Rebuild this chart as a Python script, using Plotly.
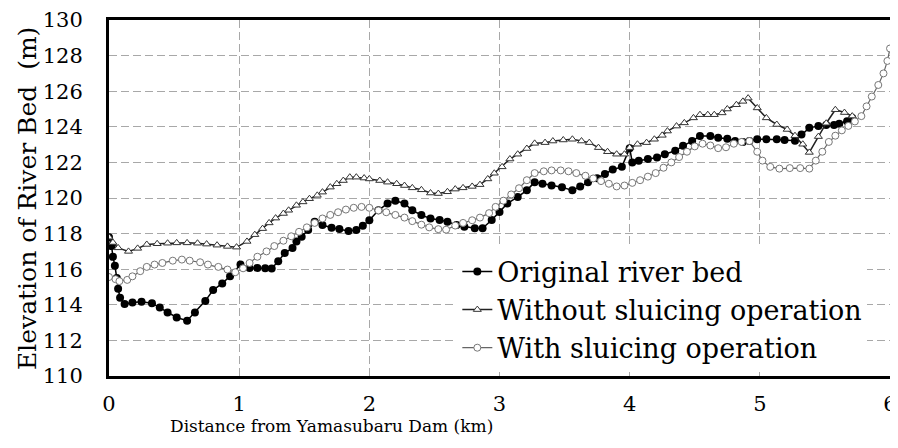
import plotly.graph_objects as go

# ---- data (km, m) ----
orig_x = [0.0, 0.02, 0.03, 0.045, 0.06, 0.07, 0.085, 0.12, 0.18, 0.25, 0.33, 0.39, 0.45, 0.52, 0.60,
          0.66, 0.74, 0.80, 0.87, 0.93, 1.01, 1.08, 1.14, 1.20, 1.25, 1.30, 1.35, 1.41, 1.44, 1.48,
          1.53, 1.58, 1.64, 1.71, 1.77, 1.84, 1.90, 1.95, 2.00, 2.07, 2.14, 2.20, 2.27, 2.33, 2.40,
          2.47, 2.54, 2.60, 2.67, 2.73, 2.81, 2.87, 2.94, 3.00, 3.06, 3.14, 3.21, 3.27, 3.33, 3.40,
          3.48, 3.56, 3.62, 3.68, 3.75, 3.81, 3.87, 3.94, 4.00, 4.02, 4.07, 4.14, 4.21, 4.27, 4.35,
          4.41, 4.48, 4.54, 4.62, 4.68, 4.75, 4.81, 4.87, 4.92, 4.98, 5.05, 5.13, 5.19, 5.27, 5.32,
          5.38, 5.45, 5.51, 5.57, 5.61, 5.67, 5.71]
orig_y = [117.8, 117.3, 116.7, 116.2, 115.5, 114.9, 114.4, 114.04, 114.13, 114.17, 114.09, 113.85,
          113.57, 113.29, 113.11, 113.57, 114.22, 114.83, 115.2, 115.61, 116.26, 116.07, 116.07,
          116.05, 116.04, 116.44, 116.91, 117.19, 117.56, 117.83, 118.2, 118.67, 118.48, 118.33,
          118.26, 118.15, 118.2, 118.44, 118.75, 119.31, 119.69, 119.85, 119.69, 119.31, 119.04,
          118.85, 118.76, 118.67, 118.48, 118.39, 118.3, 118.3, 118.76, 119.22, 119.69, 120.06,
          120.43, 120.89, 120.8, 120.7, 120.61, 120.43, 120.65, 120.89, 121.11, 121.35, 121.6,
          121.75, 122.8, 122.0, 122.09, 122.19, 122.28, 122.46, 122.65, 122.93, 123.2, 123.48,
          123.48, 123.39, 123.33, 123.2, 123.15, 123.2, 123.3, 123.3, 123.3, 123.26, 123.22,
          123.57, 123.94, 124.04, 124.1, 124.1, 124.17, 124.31, 124.5]

without_x = [0.0, 0.03, 0.07, 0.15, 0.22, 0.29, 0.37, 0.45, 0.52, 0.60, 0.68, 0.75, 0.83, 0.91, 0.98,
             1.06, 1.12, 1.18, 1.23, 1.28, 1.34, 1.38, 1.44, 1.49, 1.54, 1.60, 1.64, 1.70, 1.75, 1.80,
             1.85, 1.90, 1.96, 2.00, 2.08, 2.14, 2.21, 2.27, 2.33, 2.40, 2.47, 2.53, 2.60, 2.66, 2.72,
             2.79, 2.85, 2.91, 2.96, 3.02, 3.08, 3.14, 3.21, 3.27, 3.35, 3.41, 3.49, 3.56, 3.63, 3.69,
             3.76, 3.83, 3.90, 3.96, 4.00, 4.06, 4.13, 4.19, 4.25, 4.29, 4.36, 4.42, 4.49, 4.54, 4.60,
             4.65, 4.71, 4.75, 4.82, 4.87, 4.91, 4.98, 5.05, 5.13, 5.21, 5.27, 5.33, 5.38, 5.45, 5.51,
             5.58, 5.65, 5.71]
without_y = [117.8, 117.5, 117.2, 117.0, 117.17, 117.39, 117.43, 117.46, 117.48, 117.48, 117.46,
             117.41, 117.35, 117.28, 117.24, 117.56, 117.94, 118.28, 118.6, 118.87, 119.13, 119.31,
             119.59, 119.78, 119.96, 120.15, 120.33, 120.61, 120.8, 120.98, 121.17, 121.17, 121.12,
             121.07, 120.98, 120.89, 120.8, 120.7, 120.57, 120.46, 120.28, 120.25, 120.35, 120.5,
             120.57, 120.65, 120.75, 121.07, 121.39, 121.75, 122.19, 122.46, 122.78, 123.07, 123.11,
             123.2, 123.26, 123.3, 123.2, 123.11, 122.83, 122.6, 122.46, 122.46, 122.83, 123.02,
             123.11, 123.3, 123.52, 123.76, 124.04, 124.22, 124.5, 124.68, 124.68, 124.68, 124.78,
             125.0, 125.24, 125.43, 125.61, 125.06, 124.5, 124.13, 123.85, 123.5, 123.02, 122.56,
             123.45, 124.2, 124.96, 124.8, 124.6]

with_x = [0.0, 0.05, 0.08, 0.14, 0.18, 0.24, 0.29, 0.35, 0.41, 0.49, 0.56, 0.62, 0.70, 0.76, 0.84,
          0.91, 0.97, 1.03, 1.08, 1.14, 1.21, 1.27, 1.34, 1.40, 1.46, 1.52, 1.58, 1.64, 1.70, 1.76,
          1.82, 1.88, 1.94, 2.00, 2.07, 2.13, 2.20, 2.27, 2.33, 2.40, 2.46, 2.53, 2.59, 2.66, 2.72,
          2.79, 2.85, 2.92, 2.97, 3.03, 3.09, 3.15, 3.21, 3.27, 3.34, 3.40, 3.47, 3.53, 3.59, 3.66,
          3.72, 3.78, 3.84, 3.90, 3.96, 4.02, 4.08, 4.14, 4.20, 4.26, 4.32, 4.38, 4.44, 4.50, 4.56,
          4.62, 4.68, 4.74, 4.80, 4.86, 4.92, 4.98, 5.02, 5.08, 5.15, 5.23, 5.31, 5.38, 5.43, 5.48,
          5.53, 5.58, 5.63, 5.68, 5.73, 5.78, 5.82, 5.86, 5.91, 5.95, 5.98, 6.00]
with_y = [115.56, 115.44, 115.33, 115.4, 115.6, 115.89, 116.13, 116.26, 116.35, 116.48, 116.54,
          116.48, 116.39, 116.26, 116.13, 115.98, 115.83, 116.05, 116.35, 116.7, 117.0, 117.3,
          117.6, 117.85, 118.1, 118.35, 118.6, 118.85, 119.05, 119.2, 119.35, 119.45, 119.5,
          119.45, 119.3, 119.2, 119.05, 118.9, 118.7, 118.5, 118.35, 118.25, 118.22, 118.45,
          118.6, 118.75, 118.9, 119.15, 119.5, 119.85, 120.2, 120.55, 121.0, 121.4, 121.5,
          121.55, 121.55, 121.5, 121.4, 121.25, 121.1, 120.95, 120.8, 120.65, 120.7, 120.85,
          121.0, 121.2, 121.4, 121.7, 122.0, 122.3, 122.6, 122.9, 123.05, 122.95, 122.8, 122.85,
          123.05, 123.15, 123.2, 122.6, 122.1, 121.75, 121.65, 121.68, 121.68, 121.65, 122.1,
          122.6, 123.15, 123.5, 123.8, 124.05, 124.3, 124.6, 125.15, 125.7, 126.35, 127.0, 127.7,
          128.4]

x_ticks = [0, 1, 2, 3, 4, 5, 6]
y_ticks = [110, 112, 114, 116, 118, 120, 122, 124, 126, 128, 130]
names = ["Original river bed", "Without sluicing operation", "With sluicing operation"]
x_title = "Distance from Yamasubaru Dam (km)"
y_title = "Elevation of River Bed  (m)"

FONT = "DejaVu Serif"

fig = go.Figure()
fig.add_trace(go.Scatter(
    x=orig_x, y=orig_y, name=names[0], mode="lines+markers",
    line=dict(color="black", width=1.5),
    marker=dict(symbol="circle", size=8, color="black")))
fig.add_trace(go.Scatter(
    x=without_x, y=without_y, name=names[1], mode="lines+markers",
    line=dict(color="#222222", width=1.5),
    marker=dict(symbol="triangle-up", size=7, color="white",
                line=dict(color="#333333", width=1))))
fig.add_trace(go.Scatter(
    x=with_x, y=with_y, name=names[2], mode="lines+markers",
    line=dict(color="#666666", width=1.2),
    marker=dict(symbol="circle", size=7, color="white",
                line=dict(color="#777777", width=1))))

axis_common = dict(
    showline=True, mirror=True, linecolor="black", linewidth=3,
    showgrid=True, gridcolor="#a8a8a8", gridwidth=1.3, griddash="8px,4px",
    zeroline=False, ticks="", automargin=False, ticklabeloverflow="allow",
    tickfont=dict(family=FONT, size=21, color="black"),
)

fig.update_xaxes(range=[0, 6], tickvals=x_ticks, ticklabelstandoff=7, **axis_common)
fig.update_yaxes(range=[110, 130], tickvals=y_ticks, ticklabelstandoff=19, **axis_common)

# the page body keeps an 8px default margin: the figure is 8px smaller and its
# top/left margins reduced so the plot lands where the reference has it
fig.update_layout(
    width=890, height=440,
    margin=dict(l=101, r=8, t=12, b=72, autoexpand=False),
    paper_bgcolor="white", plot_bgcolor="white",
    font=dict(family=FONT, color="black"),
    legend=dict(
        x=0.446, y=0.01, xanchor="left", yanchor="bottom",
        bgcolor="white", borderwidth=0,
        font=dict(family=FONT, size=27, color="black"),
        itemwidth=30, tracegroupgap=0,
    ),
    annotations=[
        dict(text=x_title, xref="paper", yref="paper", x=0.285, y=-0.14,
             xanchor="center", yanchor="middle", showarrow=False,
             font=dict(family=FONT, size=17, color="black")),
        dict(text=y_title, xref="paper", yref="paper", x=-0.105, y=0.5,
             xanchor="center", yanchor="middle", textangle=-90, showarrow=False,
             font=dict(family=FONT, size=25, color="black")),
    ],
)

fig.write_html("out.html")
